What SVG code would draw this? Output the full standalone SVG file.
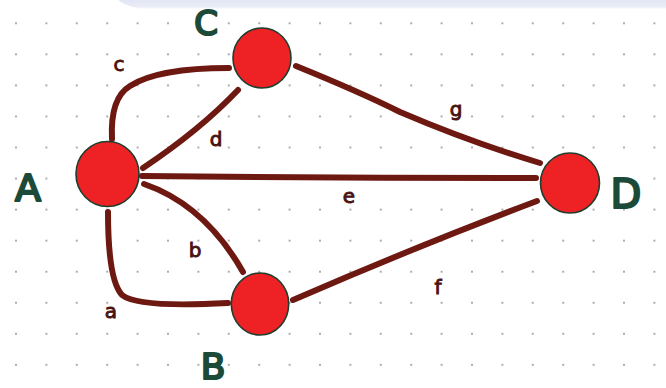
<svg xmlns="http://www.w3.org/2000/svg" width="666" height="388" viewBox="0 0 666 388">
<defs>
<pattern id="dots" x="16" y="23.3" width="30.4" height="31.05" patternUnits="userSpaceOnUse">
<circle cx="0" cy="0" r="1" fill="#909090"/>
<circle cx="30.4" cy="0" r="1" fill="#909090"/>
<circle cx="0" cy="31.05" r="1" fill="#909090"/>
<circle cx="30.4" cy="31.05" r="1" fill="#909090"/>
</pattern>
<linearGradient id="band" x1="0" y1="0" x2="0" y2="1">
<stop offset="0" stop-color="#e2e5f3"/>
<stop offset="0.7" stop-color="#eaedf7"/>
<stop offset="1" stop-color="#ffffff" stop-opacity="0"/>
</linearGradient>
</defs>
<style>
.edge{fill:none;stroke:#6e1812;stroke-width:6;stroke-linecap:round}
.node{fill:#ee2125;stroke:#1e3d2c;stroke-width:1.6}
.nl{font-family:"DejaVu Sans",sans-serif;fill:#1b4a38;stroke:#1b4a38;stroke-width:2.2;stroke-linejoin:round;text-anchor:middle}
.el{font-family:"DejaVu Sans",sans-serif;fill:#4a1210;stroke:#4a1210;stroke-width:0.9;text-anchor:middle;font-size:20px}
</style>
<rect width="666" height="388" fill="#ffffff"/>
<rect x="0" y="0" width="666" height="388" fill="url(#dots)"/>
<path d="M118 0 H666 V10 H150 Q128 8 118 0 Z" fill="url(#band)"/>
<g id="connectors">
<path id="edge-c" class="edge" d="M112 139 Q110 98 130 86 Q158 68 229 68"/>
<path id="edge-d" class="edge" d="M143 168 Q200 130 238 90"/>
<path id="edge-g" class="edge" d="M296 66 Q360 92 400 112 Q470 142 540 163"/>
<path id="edge-e" class="edge" d="M142 176 Q340 178 536 178"/>
<path id="edge-b" class="edge" d="M144 184 Q205 205 243 272"/>
<path id="edge-a" class="edge" d="M108 212 Q108 280 122 295 Q138 308 228 303"/>
<path id="edge-f" class="edge" d="M293 300 Q420 245 537 201"/>
</g>
<g id="edge-labels">
<text class="el" x="119" y="71" fill="#8a1c1c" stroke="#8a1c1c">c</text>
<text class="el" x="216" y="146">d</text>
<text class="el" x="456" y="116">g</text>
<text class="el" x="349" y="203">e</text>
<text class="el" x="195" y="257">b</text>
<text class="el" x="438" y="294" font-size="23">f</text>
<text class="el" x="111" y="318">a</text>
</g>
<g id="node-A">
<ellipse class="node" cx="107.5" cy="174" rx="31.5" ry="32.5"/>
<text class="nl" x="28" y="201" font-size="38">A</text>
</g>
<g id="node-B">
<ellipse class="node" cx="260" cy="304" rx="28.7" ry="31"/>
<text class="nl" x="213" y="379" font-size="36">B</text>
</g>
<g id="node-C">
<ellipse class="node" cx="262" cy="58" rx="29" ry="30"/>
<text class="nl" x="206" y="35" font-size="34">C</text>
</g>
<g id="node-D">
<ellipse class="node" cx="570" cy="183" rx="29.5" ry="30"/>
<text class="nl" x="626" y="208" font-size="40">D</text>
</g>
</svg>
